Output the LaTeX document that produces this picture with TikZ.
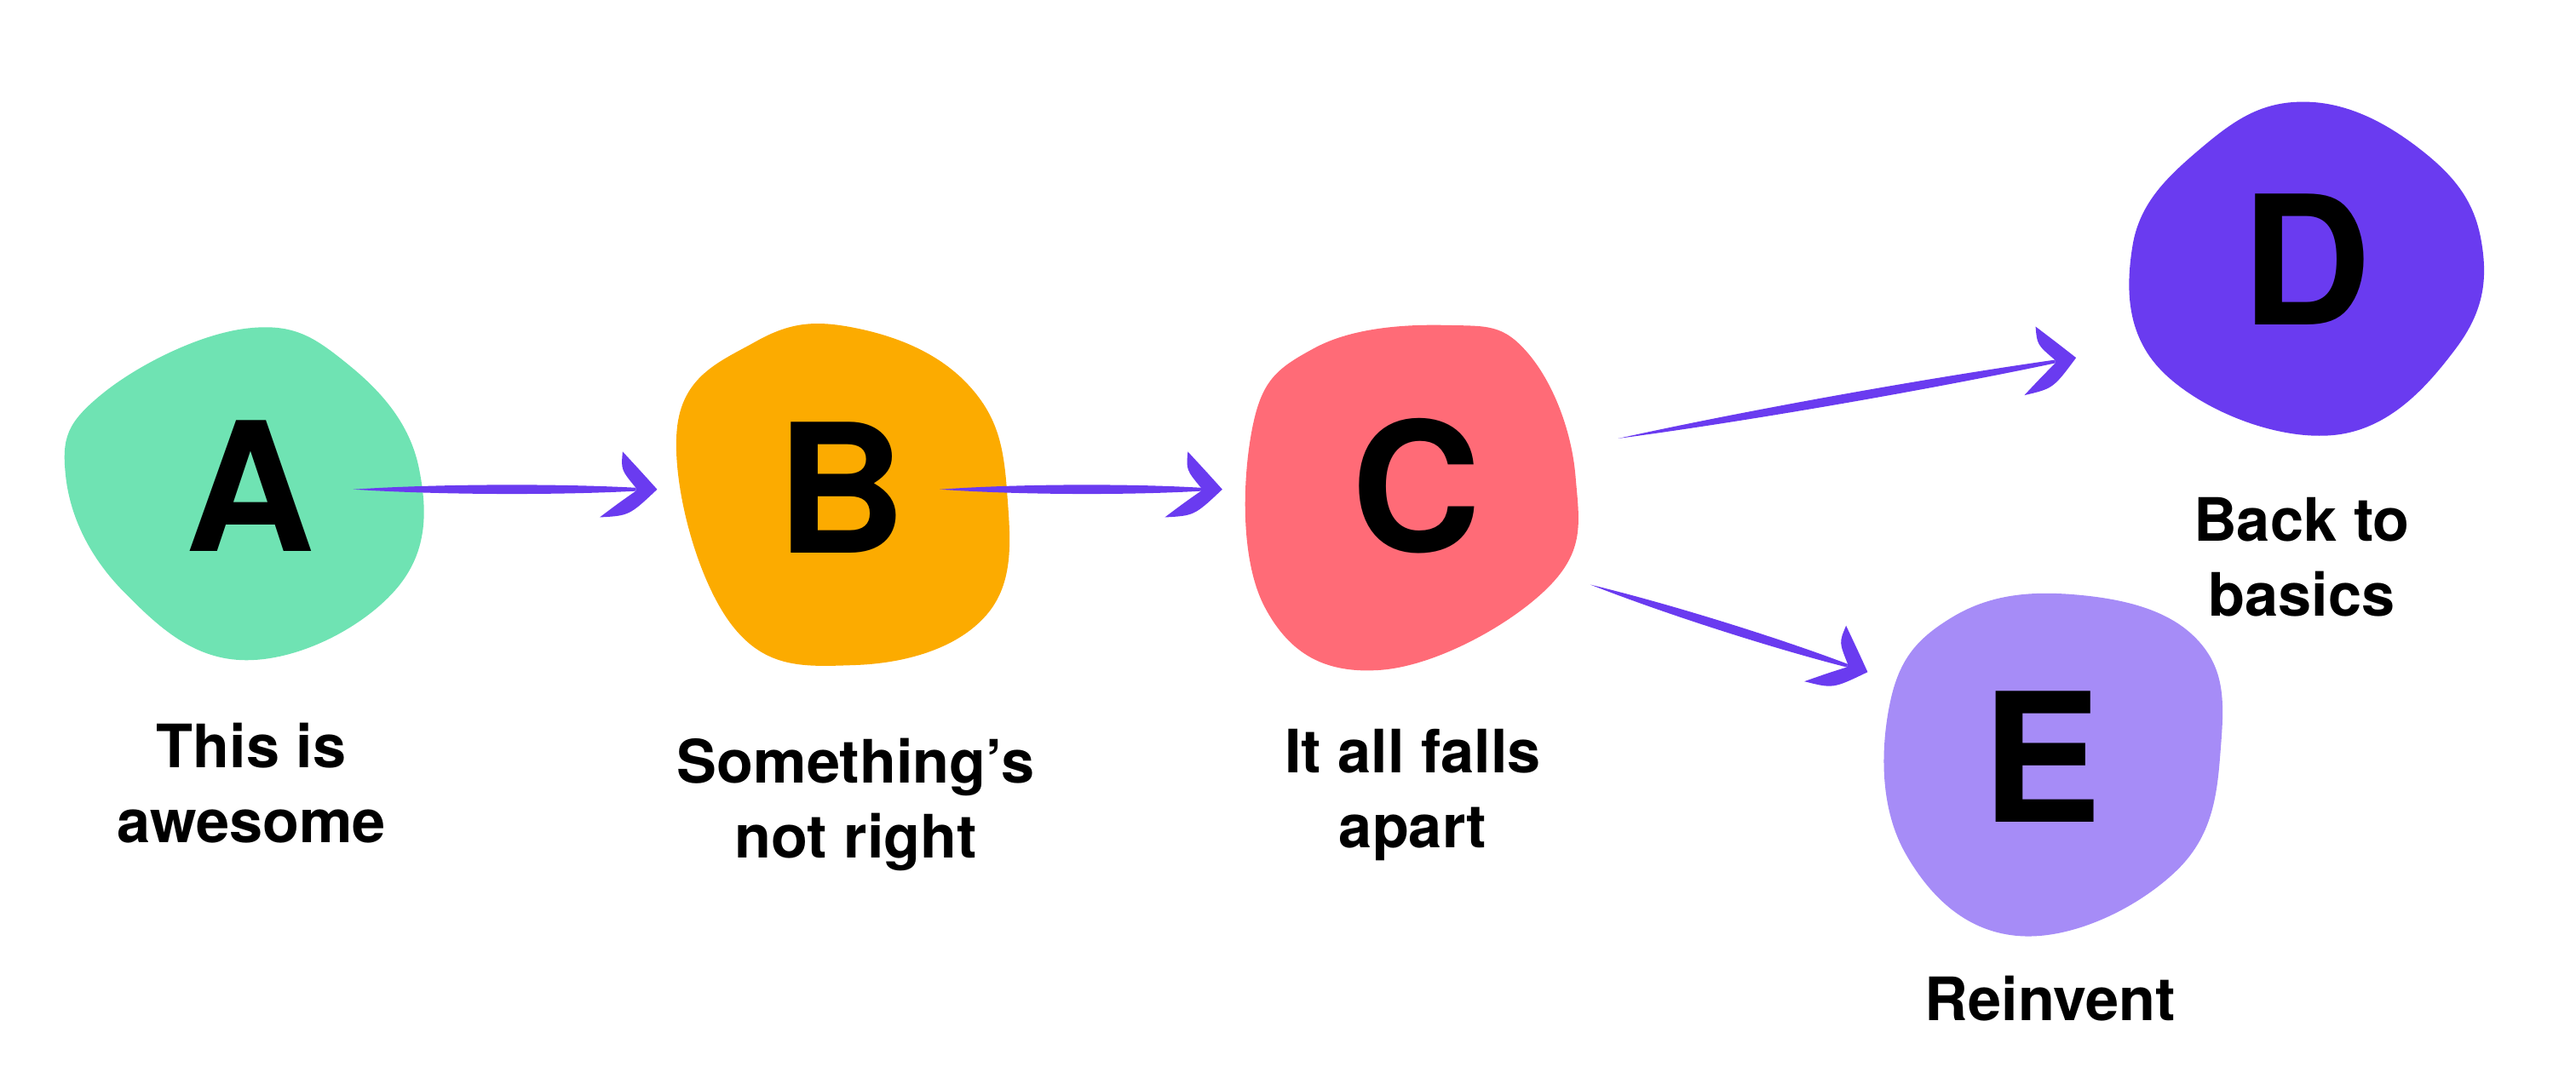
\documentclass[tikz,border=0pt]{standalone}
\usepackage{fontspec}
\setmainfont{TeX Gyre Heros}
\usetikzlibrary{positioning}

\definecolor{mint}{HTML}{6FE3B3}
\definecolor{amber}{HTML}{FCAB00}
\definecolor{coral}{HTML}{FF6B77}
\definecolor{violet}{HTML}{6A3BF0}
\definecolor{lilac}{HTML}{A68CF7}

\tikzset{
    letter/.style={font=\fontsize{60}{60}\selectfont\bfseries, text=black},
    caption/.style={font=\fontsize{20}{25}\selectfont\bfseries, align=center, text=black},
    blob/.style={fill=#1, draw=none},
    pics/swoosh/.style={code={
        % tapered body
        \fill[violet] (0,0) .. controls (#1*0.3,-3.5) and (#1*0.7,-3.5) .. (#1-8,-1)
            -- (#1-8,1) .. controls (#1*0.7,3.5) and (#1*0.3,3.5) .. (0,0) -- cycle;
        % curved head
        \fill[violet] (#1+5,0) .. controls (#1-4,-10) .. (#1-16,-23)
            .. controls (#1-17,-12) .. (#1-8,-1) -- (#1-8,1)
            .. controls (#1-18,8) .. (#1-30,17)
            .. controls (#1-12,16) .. (#1+5,0) -- cycle;
    }}
}

\begin{document}
\begin{tikzpicture}[x=0.01929cm, y=-0.01929cm]
    \useasboundingbox (0,0) rectangle (1568,660);

    % blobs
    \fill[blob=mint] plot[smooth cycle, tension=0.7] coordinates
        {(40,290) (62,240) (150,200) (212,222) (255,285) (240,360) (150,402) (75,360)};
    \fill[blob=amber] plot[smooth cycle, tension=0.7] coordinates
        {(412,262) (460,208) (522,200) (590,235) (613,300) (600,375) (520,405) (445,380)};
    \fill[blob=coral] plot[smooth cycle, tension=0.7] coordinates
        {(762,262) (800,212) (880,198) (930,215) (959,290) (942,358) (840,408) (770,370)};
    \fill[blob=violet] plot[smooth cycle, tension=0.7] coordinates
        {(1298,150) (1340,90) (1402,62) (1472,90) (1510,145) (1495,212) (1420,265) (1318,228)};
    \fill[blob=lilac] plot[smooth cycle, tension=0.7] coordinates
        {(1150,430) (1188,376) (1262,362) (1336,388) (1352,452) (1325,530) (1230,570) (1160,520)};

    % letters
    \node[letter] (a) at (152,296) {A};
    \node[letter] (b) at (512,297) {B};
    \node[letter] (c) at (862,296) {C};
    \node[letter] (d) at (1404,158) {D};
    \node[letter] (e) at (1243,461) {E};

    % captions
    \node[caption] (ta) at (153,477) {This is\\awesome};
    \node[caption] (tb) at (521,490) {Something’s\\not right};
    \node[caption] (tc) at (860,484) {It all falls\\apart};
    \node[caption] (td) at (1401,339) {Back to\\basics};
    \node[caption] (te) at (1248,608) {Reinvent};

    % arrows
    \coordinate (ab) at (215,298);
    \coordinate (bc) at (572,298);
    \coordinate (cd) at (985,267);
    \coordinate (ce) at (968,356);
    \pic[rotate=0] at (ab) {swoosh=180};
    \pic[rotate=0] at (bc) {swoosh=167};
    \pic[rotate=10] at (cd) {swoosh=278};
    \pic[rotate=-17.5] at (ce) {swoosh=172};
\end{tikzpicture}
\end{document}
